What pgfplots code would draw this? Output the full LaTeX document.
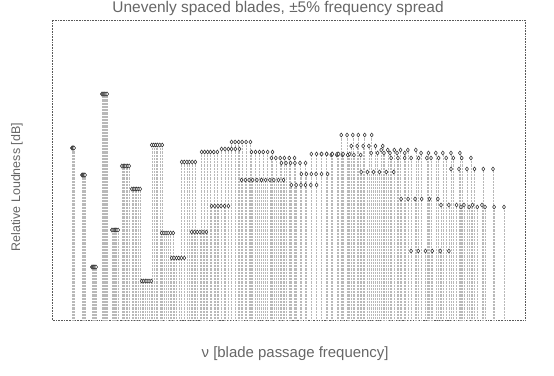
\documentclass[border=0pt]{standalone}
\usepackage{pgfplots}
\pgfplotsset{compat=1.18}
\usepackage{pgfplotstable}
\usepackage{fontspec}
\setmainfont{Liberation Sans}
\pgfplotstableread{
n  py
2  148
3  175
4  267
5  94
6  230
7  166
8  189
9  281
10 145
11 233
12 258
13 162
14 232
15 152
16 206
17 149
18 142
19 180
20 152
21 180
22 158
23 163
24 185
25 174
26 154
27 154
28 155
29 135
30 146
31 172
32 153
33 150
34 158
35 199
36 251
37 153
38 158
39 205
40 169
41 207
}\groups
\pgfplotsset{stem/.style={ycomb, gray!55, densely dotted, line width=0.45pt,
     mark=diamond*, mark size=2pt, mark options={solid, draw=black!80, fill=white, line width=0.55pt}}}
\begin{document}
\begin{tikzpicture}
\begin{axis}[
  scale only axis,
  width=473bp, height=300bp,
  xmin=0, xmax=45.05, ymin=0, ymax=300,
  axis line style={black!65, densely dotted, line width=0.6pt},
  xtick=\empty, ytick=\empty,
  title={Unevenly spaced blades, \textpm5\% frequency spread},
  title style={font=\fontsize{15.5}{18}\selectfont, text=black!60, inner sep=0pt, at={(axis description cs:0.478,1.006)}, anchor=base},
  xlabel={ν [blade passage frequency]},
  xlabel style={font=\fontsize{15}{18}\selectfont, text=black!60, at={(axis description cs:0.514,-0.113)}, anchor=center},
  ylabel={Relative Loudness [dB]},
  ylabel style={font=\fontsize{12.5}{15}\selectfont, text=black!60, at={(axis description cs:-0.074,0.443)}, anchor=center},
  clip=false,
]
\addplot[stem] table[x expr=\thisrow{n}*0.950, y expr=320-\thisrow{py}] {\groups};
\addplot[stem] table[x expr=\thisrow{n}*0.969, y expr=320-\thisrow{py}] {\groups};
\addplot[stem] table[x expr=\thisrow{n}*0.988, y expr=320-\thisrow{py}] {\groups};
\addplot[stem] table[x expr=\thisrow{n}*1.006, y expr=320-\thisrow{py}] {\groups};
\addplot[stem] table[x expr=\thisrow{n}*1.027, y expr=320-\thisrow{py}] {\groups};
\addplot[stem] table[x expr=\thisrow{n}*1.050, y expr=320-\thisrow{py}] {\groups};
\end{axis}
\pgfresetboundingbox
\path[use as bounding box] ([shift={(-52bp,-56bp)}]current axis.south west) rectangle ([shift={(29bp,20bp)}]current axis.north east);
\end{tikzpicture}
\end{document}
